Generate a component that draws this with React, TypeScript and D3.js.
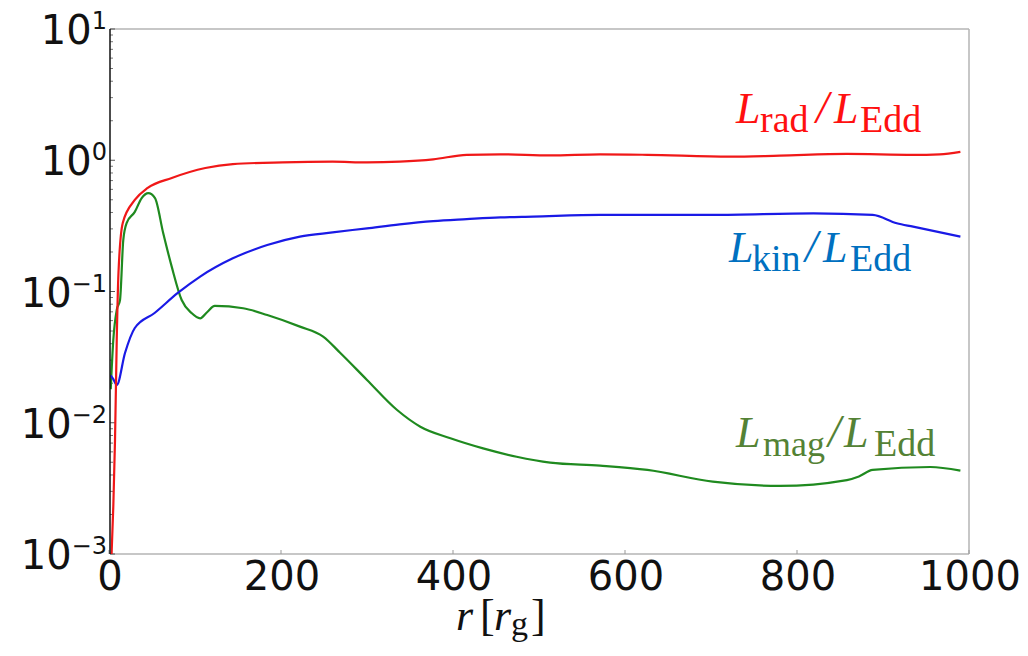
import React from "react";
import * as d3 from "d3";

const radR = [3, 5, 7, 9, 11, 16, 30, 45, 73, 112, 144, 202, 260, 300, 338, 377, 416, 455, 513, 571, 626, 722, 780, 858, 935, 966, 990];
const radV = [0.001, 0.0023, 0.0074, 0.0427, 0.138, 0.333, 0.498, 0.615, 0.733, 0.873, 0.935, 0.964, 0.975, 0.962, 0.975, 1.016, 1.10, 1.11, 1.09, 1.11, 1.10, 1.064, 1.084, 1.117, 1.10, 1.11, 1.16];

const kinR = [2, 5, 9, 18.6, 30, 53, 80, 106, 144, 184, 222, 260, 300, 338, 377, 416, 455, 493, 571, 702, 819, 888, 916, 935, 990];
const kinV = [0.023, 0.0215, 0.0194, 0.034, 0.0527, 0.0686, 0.0975, 0.130, 0.179, 0.226, 0.262, 0.282, 0.303, 0.325, 0.344, 0.356, 0.367, 0.372, 0.383, 0.383, 0.394, 0.383, 0.331, 0.312, 0.262];

const magR = [2, 5, 9, 12.8, 16.6, 20.6, 30, 38, 45.7, 53.5, 63, 73, 84.5, 96, 106, 114, 123, 156, 184, 222, 249, 269, 300, 335, 362, 397, 435, 474, 513, 571, 626, 702, 780, 858, 872, 888, 955, 990];
const magV = [0.018, 0.0427, 0.0723, 0.0861, 0.2466, 0.333, 0.404, 0.515, 0.562, 0.515, 0.279, 0.154, 0.0861, 0.0685, 0.0625, 0.0695, 0.0776, 0.0745, 0.0662, 0.054, 0.0453, 0.034, 0.0212, 0.0125, 0.00933, 0.00762, 0.00638, 0.00551, 0.00497, 0.00471, 0.00437, 0.00356, 0.0033, 0.00366, 0.0039, 0.00437, 0.0046, 0.00432];

const xTicks = [0, 200, 400, 600, 800, 1000];
const yExps = [-3, -2, -1, 0, 1];

const W = 1028, H = 656;
const left = 110, right = 969, top = 29, bottom = 554;

type Piece = { t: string; x: number; sub?: boolean; it?: boolean; fs?: number };
const mkLabel = (sub: string, xs: number[], subFs: number): Piece[] => [
  { t: "L", x: xs[0], it: true, fs: 44 },
  { t: sub, x: xs[1], sub: true, fs: subFs },
  { t: "/", x: xs[2], it: true, fs: 46 },
  { t: "L", x: xs[3], it: true, fs: 44 },
  { t: "Edd", x: xs[4], sub: true, fs: 38 },
];

export default function App() {
  const x = d3.scaleLinear().domain([0, 1000]).range([109, 969]);
  const y = d3.scaleLog().domain([1e-3, 10]).range([bottom, top]);
  const line = d3.line<[number, number]>().x(d => x(d[0])).y(d => y(d[1])).curve(d3.curveMonotoneX);
  const mk = (rs: number[], vs: number[]) => line(rs.map((r, i) => [r, vs[i]] as [number, number])) || "";

  const minor: number[] = [];
  for (let e = -3; e < 1; e++) for (let k = 2; k <= 9; k++) minor.push(k * Math.pow(10, e));

  const sansF = "DejaVu Sans, sans-serif";
  const serif = "Liberation Serif, DejaVu Serif, serif";

  const labels = [
    { base: 123, color: "#ff1010", pieces: mkLabel("rad", [736, 760, 816, 834, 860], 38) },
    { base: 262, color: "#0070c0", pieces: mkLabel("kin", [729, 752, 805, 823, 850], 38) },
    { base: 447, color: "#548235", pieces: mkLabel("mag", [736, 763, 828, 844, 874], 36) },
  ];

  return (
    <svg width={W} height={H} style={{ position: "absolute", left: 0, top: 0, background: "#fff" }}>
      <defs>
        <clipPath id="plot">
          <rect x={left} y={top} width={right - left} height={bottom - top} />
        </clipPath>
      </defs>
      <line x1={left} x2={right} y1={top} y2={top} stroke="#b4b4b4" strokeWidth={1.5} />
      <line x1={right} x2={right} y1={top} y2={bottom} stroke="#b4b4b4" strokeWidth={1.5} />
      <line x1={left} x2={right} y1={bottom} y2={bottom} stroke="#b4b4b4" strokeWidth={1.5} />
      {minor.map((v, i) => (
        <line key={"m" + i} x1={left} x2={left + 3} y1={y(v)} y2={y(v)} stroke="#777" strokeWidth={1} />
      ))}
      {yExps.map(e => (
        <line key={"M" + e} x1={left} x2={left + 5} y1={y(Math.pow(10, e))} y2={y(Math.pow(10, e))} stroke="#555" strokeWidth={1} />
      ))}
      {xTicks.map(t => (
        <line key={"xt" + t} x1={x(t)} x2={x(t)} y1={bottom} y2={bottom - 4} stroke="#999" strokeWidth={1} />
      ))}
      <g clipPath="url(#plot)" fill="none" strokeWidth={2.2} strokeLinejoin="round">
        <path d={mk(magR, magV)} stroke="#1f8a1f" />
        <path d={mk(kinR, kinV)} stroke="#1a1ae6" />
        <path d={mk(radR, radV)} stroke="#f01818" />
      </g>
      <line x1={left} x2={left} y1={top} y2={bottom} stroke="#111" strokeWidth={1.5} />
      {yExps.map(e => (
        <text key={"yl" + e} x={left - 3} y={y(Math.pow(10, e)) + 15} textAnchor="end" fontFamily={sansF} fontSize={40} fill="#111">
          10
          <tspan fontSize={24} dy={-15}>{e < 0 ? "\u2212" + Math.abs(e) : String(e)}</tspan>
        </text>
      ))}
      {xTicks.map(t => (
        <text key={"xl" + t} x={x(t) + 1} y={590} textAnchor="middle" fontFamily={sansF} fontSize={40} fill="#111">
          {t}
        </text>
      ))}
      <text y={630} fontFamily={serif} fontSize={44} fill="#111">
        <tspan x={456} fontStyle="italic">r</tspan>
        <tspan x={480}>[</tspan>
        <tspan x={494} fontStyle="italic">r</tspan>
        <tspan x={511} fontSize={34} dy={5}>g</tspan>
        <tspan x={531} dy={-5}>]</tspan>
      </text>
      {labels.map((lb, i) => (
        <text key={"lab" + i} y={lb.base} fontFamily={serif} fill={lb.color}>
          {lb.pieces.map((p, j) => (
            <tspan key={j} x={p.x} y={lb.base + (p.sub ? 9 : 0)} fontSize={p.fs} fontStyle={p.it ? "italic" : "normal"}>
              {p.t}
            </tspan>
          ))}
        </text>
      ))}
    </svg>
  );
}
